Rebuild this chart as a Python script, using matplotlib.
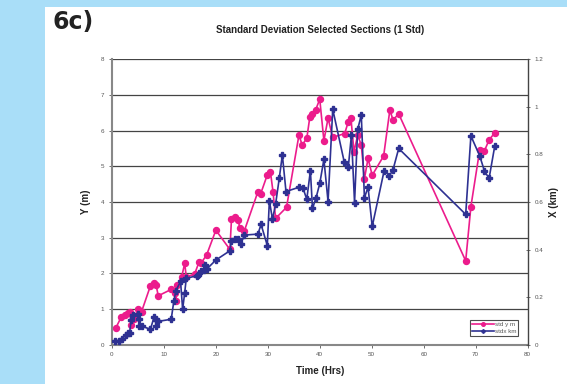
import matplotlib.pyplot as plt
from matplotlib.patches import Rectangle

plt.rcParams['font.family'] = ['Liberation Sans', 'DejaVu Sans']

# std y (m), left axis
time_y = [0.7, 1.8, 2.5, 3.1, 3.4, 3.7, 4.2, 5.0, 5.7, 7.4, 8.1, 8.5, 8.9,
          11.4, 12.1, 12.3, 12.6, 13.4, 14.0, 14.3, 15.9, 16.8, 17.2, 18.2,
          20.0, 22.7, 23.0, 23.6, 24.3, 24.6, 25.5, 28.1, 28.6, 29.9, 30.5,
          31.0, 31.5, 33.6, 36.0, 36.6, 37.5, 38.1, 38.6, 39.2, 40.0, 40.8,
          41.6, 42.5, 44.8, 45.5, 46.0, 46.6, 47.3, 48.0, 48.6, 49.3, 50.1,
          52.3, 53.5, 54.1, 55.2, 68.1, 69.1, 70.8, 71.7, 72.6, 73.7]
std_y = [0.46, 0.78, 0.83, 0.90, 0.93, 0.55, 0.71, 0.99, 0.93, 1.65, 1.74, 1.67, 1.37,
         1.55, 1.46, 1.23, 1.68, 1.89, 2.28, 1.90, 1.98, 2.33, 2.30, 2.51,
         3.21, 2.67, 3.51, 3.59, 3.50, 3.27, 3.20, 4.29, 4.22, 4.76, 4.85,
         4.29, 3.54, 3.85, 5.88, 5.60, 5.78, 6.39, 6.47, 6.58, 6.88, 5.72,
         6.35, 5.81, 5.92, 6.25, 6.35, 5.41, 5.87, 5.60, 4.65, 5.22, 4.75,
         5.29, 6.58, 6.30, 6.47, 2.35, 3.87, 5.46, 5.43, 5.74, 5.94]

# std x (km), right axis
time_x = [0.5, 1.35, 2.0, 2.6, 3.0, 3.4, 3.7, 4.0, 5.0, 5.2, 5.2, 5.7, 7.4, 8.1,
          8.4, 8.5, 8.9, 11.4, 11.9, 12.3, 13.2, 13.6, 14.0, 14.3, 16.3, 16.6,
          17.2, 17.7, 17.9, 18.2, 20.0, 22.7, 23.0, 23.6, 24.3, 24.8, 25.5,
          28.1, 28.7, 29.9, 30.3, 30.9, 31.5, 32.2, 32.8, 33.5, 36.0, 36.8,
          37.5, 38.2, 38.6, 39.3, 40.0, 40.8, 41.6, 42.5, 44.7, 45.5, 46.1,
          46.7, 47.3, 48.0, 48.6, 49.3, 50.1, 52.4, 53.4, 54.1, 55.2, 68.1,
          69.1, 70.8, 71.7, 72.6, 73.7]
std_x = [0.017, 0.017, 0.023, 0.041, 0.048, 0.051, 0.104, 0.125, 0.129, 0.107, 0.078,
         0.078, 0.065, 0.116, 0.105, 0.078, 0.098, 0.107, 0.182, 0.227, 0.266,
         0.149, 0.219, 0.279, 0.290, 0.293, 0.308, 0.315, 0.335, 0.317, 0.356,
         0.395, 0.437, 0.443, 0.443, 0.423, 0.461, 0.465, 0.506, 0.417, 0.606,
         0.527, 0.591, 0.699, 0.798, 0.644, 0.662, 0.657, 0.611, 0.732, 0.573,
         0.618, 0.678, 0.779, 0.602, 0.990, 0.770, 0.747, 0.882, 0.597, 0.905,
         0.966, 0.618, 0.662, 0.497, 0.732, 0.710, 0.735, 0.825, 0.548, 0.878,
         0.794, 0.731, 0.699, 0.836]

pink = '#ec1c8c'
navy = '#2e3192'
tick_grey = '#555555'

fig = plt.figure(figsize=(5.67, 3.84), dpi=100, facecolor='#a9def8')
fig.patches.append(Rectangle((45 / 567, 0), 1, 1 - 7 / 384, transform=fig.transFigure,
                             facecolor='white', edgecolor='none', zorder=-10))

fig.text(53 / 567, 1 - 22 / 384, '6c)', fontsize=17, fontweight='bold',
         va='center', ha='left', color='#222222', family='DejaVu Sans')

ax = fig.add_axes([112 / 567, 1 - 344.7 / 384, 415.5 / 567, 285.4 / 384])
ax.set_facecolor('none')
ax.plot(time_y, std_y, color=pink, marker='o', markersize=4.3, lw=1.2, label='std y m')
ax.set_xlim(0, 80)
ax.set_ylim(0, 8)
ax.set_xticks(range(0, 81, 10))
ax.set_yticks(range(0, 9))
for v in range(1, 9):
    ax.axhline(v, color='#444444', lw=0.9, zorder=0)
ax.tick_params(labelsize=4.5, colors=tick_grey, length=2, width=0.6)
for s in ['left', 'bottom']:
    ax.spines[s].set_color('#888888')
    ax.spines[s].set_linewidth(1.5)
ax.spines['top'].set_visible(False)
ax.spines['right'].set_visible(False)
ax.set_xlabel('Time (Hrs)', fontsize=7, fontweight='bold', labelpad=6, color='#222222')
ax.set_ylabel('Y (m)', fontsize=7, fontweight='bold', labelpad=7, color='#222222')
ax.set_title('Standard Deviation Selected Sections (1 Std)', fontsize=7,
             fontweight='bold', pad=19, color='#222222')

ax2 = ax.twinx()
ax2.plot(time_x, std_x, color=navy, marker='P', markersize=4, lw=1.2, label='stdx km')
ax2.set_ylim(0, 1.2)
ax2.set_yticks([0, 0.2, 0.4, 0.6, 0.8, 1.0, 1.2])
ax2.set_yticklabels(['0', '0.2', '0.4', '0.6', '0.8', '1', '1.2'])
ax2.tick_params(labelsize=4.5, colors=tick_grey, length=3, width=0.6, direction='inout')
for s in ['left', 'bottom', 'top']:
    ax2.spines[s].set_visible(False)
ax2.spines['right'].set_color('#444444')
ax2.spines['right'].set_linewidth(1.0)
ax2.set_ylabel('X (km)', fontsize=7, fontweight='bold', labelpad=4, color='#222222')

h1, l1 = ax.get_legend_handles_labels()
h2, l2 = ax2.get_legend_handles_labels()
leg = ax2.legend(h1 + h2, l1 + l2, loc='lower right', bbox_to_anchor=(0.985, 0.02),
                 fontsize=4.5, frameon=True, fancybox=False, edgecolor='#222222',
                 borderpad=0.3, handlelength=3.5, labelspacing=0.2, handletextpad=0.2,
                 markerscale=0.6)
leg.get_frame().set_linewidth(0.8)
for t in leg.get_texts():
    t.set_color(tick_grey)

fig.savefig('out.png', dpi=100, facecolor=fig.get_facecolor())
